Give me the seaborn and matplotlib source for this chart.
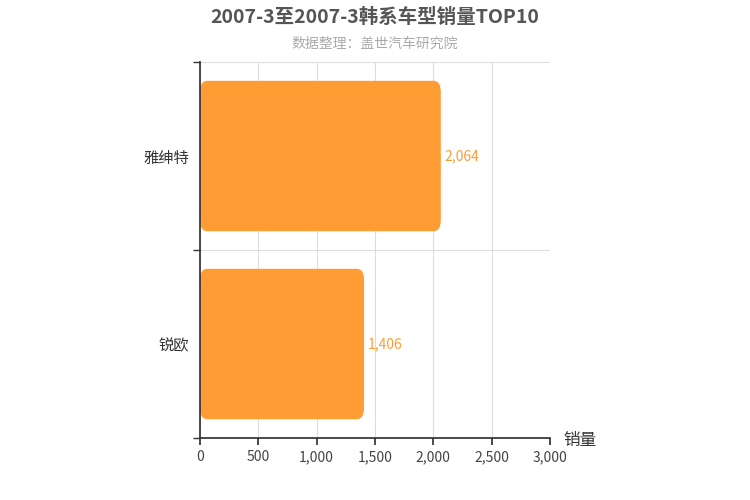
import matplotlib
matplotlib.use("Agg")
import matplotlib.pyplot as plt
import seaborn as sns
import pandas as pd
from matplotlib.patches import FancyBboxPatch

models = ["雅绅特", "锐欧"]
sales = [2064, 1406]
xticks = [0, 500, 1000, 1500, 2000, 2500, 3000]

sns.set_theme(style="white")
plt.rcParams['font.family'] = ['Noto Sans CJK SC', 'DejaVu Sans']

fig = plt.figure(figsize=(7.5, 5), dpi=100)
ax = fig.add_axes([200/750, 62/500, 350/750, 376/500])
df = pd.DataFrame({"model": models, "sales": sales})
sns.barplot(data=df, x="sales", y="model", ax=ax, color="#ff9c33", width=0.8, saturation=1)

for p in list(ax.patches):
    x0, y0, w, h = p.get_x(), p.get_y(), p.get_width(), p.get_height()
    p.set_visible(False)
    fb = FancyBboxPatch((x0, y0), w, h, boxstyle="round,pad=0,rounding_size=0.06",
                        mutation_aspect=1/0.06*0.06*1, facecolor="#ff9c33", edgecolor="none")
    fb.set_boxstyle("round", pad=0, rounding_size=60)
    fb.set_mutation_aspect(0.06/60)
    ax.add_patch(fb)

for i, v in enumerate(sales):
    ax.text(v + 30, i, f"{v:,}", va="center", ha="left", color="#ff9c33", fontsize=10)

ax.set_xlim(0, 3000)
ax.set_ylim(1.5, -0.5)
ax.set_xticks(xticks)
ax.set_xticklabels([f"{t:,}" for t in xticks], fontsize=10, color="#444444")
ax.set_yticks([0, 1])
ax.set_yticklabels(models, fontsize=11, color="#333333")
ax.set_yticks([-0.5, 0.5, 1.5], minor=True)
ax.tick_params(axis="y", which="major", length=0, pad=8)
ax.tick_params(axis="y", which="minor", length=5, color="#333333", left=True)
ax.tick_params(axis="x", length=5, color="#333333", bottom=True)
ax.grid(True, axis="x", color="#dddddd", lw=0.8)
ax.grid(True, axis="y", which="minor", color="#dddddd", lw=0.8)
ax.set_axisbelow(True)
for s in ["top", "right"]:
    ax.spines[s].set_visible(False)
for s in ["left", "bottom"]:
    ax.spines[s].set_color("#333333")
ax.set_xlabel("")
ax.set_ylabel("")
fig.text(580/750, 1 - 441/500, "销量", ha="center", va="center", fontsize=12, color="#333333")
fig.text(375/750, 1 - 17/500, "2007-3至2007-3韩系车型销量TOP10", ha="center", va="center",
         fontsize=14, fontweight="bold", color="#555555")
fig.text(375/750, 1 - 44/500, "数据整理：盖世汽车研究院", ha="center", va="center",
         fontsize=10, color="#aaaaaa")
fig.savefig("out.png", dpi=100)
